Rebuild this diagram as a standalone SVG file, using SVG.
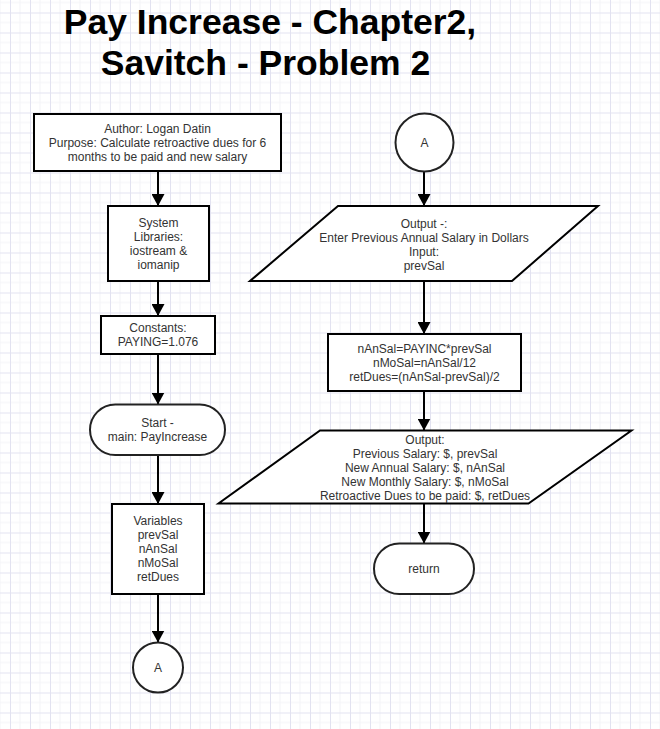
<svg xmlns="http://www.w3.org/2000/svg" width="660" height="729" viewBox="0 0 660 729">
<style>
.t{font-family:"Liberation Sans",Arial,sans-serif;font-size:12px;fill:#333;text-anchor:middle}
.title{font-family:"Liberation Sans",Arial,sans-serif;font-size:35.5px;font-weight:bold;fill:#000;text-anchor:middle}
.s{fill:#fff;stroke:#000;stroke-width:2}
.c{fill:#fff;stroke:#222;stroke-width:2}
.e{stroke:#000;stroke-width:2;fill:none}
</style>
<defs>
<pattern id="grid" patternUnits="userSpaceOnUse" width="20" height="20" x="10" y="12.5">
<rect width="20" height="20" fill="#fff"/>
<path d="M10 0V20M0 10H20" stroke="#f3f3f8" stroke-width="1"/>
<path d="M0.5 0V20M0 0.5H20" stroke="#e2e2f0" stroke-width="1"/>
</pattern>
<marker id="ah" markerUnits="userSpaceOnUse" markerWidth="14" markerHeight="13" refX="12" refY="6.5" orient="auto">
<path d="M0 0L12 6.5L0 13Z" fill="#000"/>
</marker>
</defs>
<rect width="660" height="729" fill="url(#grid)"/>
<g id="title">
<text class="title" x="270" y="34">Pay Increase - Chapter2,</text>
<text class="title" x="265.5" y="74.5">Savitch - Problem 2</text>
</g>
<g id="connectors">
<path class="e" d="M158 171V206" marker-end="url(#ah)"/>
<path class="e" d="M158 281V316" marker-end="url(#ah)"/>
<path class="e" d="M158 354V404.5" marker-end="url(#ah)"/>
<path class="e" d="M158 455V504" marker-end="url(#ah)"/>
<path class="e" d="M158 594V642.5" marker-end="url(#ah)"/>
<path class="e" d="M424 171.5V206" marker-end="url(#ah)"/>
<path class="e" d="M424 281V334" marker-end="url(#ah)"/>
<path class="e" d="M424 391V430.5" marker-end="url(#ah)"/>
<path class="e" d="M424 503.5V543.5" marker-end="url(#ah)"/>
</g>
<g id="author">
<rect class="s" x="34" y="114" width="247" height="57"/>
<text class="t" x="157.5" y="133.3">Author: Logan Datin</text>
<text class="t" x="157.5" y="147">Purpose: Calculate retroactive dues for 6</text>
<text class="t" x="157.5" y="161">months to be paid and new salary</text>
</g>
<g id="libraries">
<rect class="s" x="108" y="206" width="101" height="75"/>
<text class="t" x="158.5" y="227">System</text>
<text class="t" x="158.5" y="241">Libraries:</text>
<text class="t" x="158.5" y="255">iostream &amp;</text>
<text class="t" x="158.5" y="269">iomanip</text>
</g>
<g id="constants">
<rect class="s" x="101" y="316" width="114" height="38"/>
<text class="t" x="158" y="332">Constants:</text>
<text class="t" x="158" y="346">PAYING=1.076</text>
</g>
<g id="start">
<rect class="c" x="90" y="404.5" width="135" height="50.5" rx="25.25"/>
<text class="t" x="157.5" y="427">Start -</text>
<text class="t" x="157.5" y="441">main: PayIncrease</text>
</g>
<g id="variables">
<rect class="s" x="112" y="504" width="92" height="90"/>
<text class="t" x="158" y="525">Variables</text>
<text class="t" x="158" y="539">prevSal</text>
<text class="t" x="158" y="553">nAnSal</text>
<text class="t" x="158" y="567">nMoSal</text>
<text class="t" x="158" y="581">retDues</text>
</g>
<g id="connectorA1">
<circle class="c" cx="158" cy="667.5" r="25"/>
<text class="t" x="158" y="671.5">A</text>
</g>
<g id="connectorA2">
<circle class="c" cx="424.5" cy="142.5" r="29"/>
<text class="t" x="424.5" y="147">A</text>
</g>
<g id="inputOutput">
<polygon class="s" points="338,206 598,206 512,281 250,281"/>
<text class="t" x="424" y="227.5">Output -:</text>
<text class="t" x="424" y="241.5">Enter Previous Annual Salary in Dollars</text>
<text class="t" x="424" y="255.5">Input:</text>
<text class="t" x="424" y="269.5">prevSal</text>
</g>
<g id="process">
<rect class="s" x="328" y="334" width="193" height="57"/>
<text class="t" x="424.5" y="353.3">nAnSal=PAYINC*prevSal</text>
<text class="t" x="424.5" y="367">nMoSal=nAnSal/12</text>
<text class="t" x="424.5" y="381">retDues=(nAnSal-prevSal)/2</text>
</g>
<g id="output">
<polygon class="s" points="320,430.5 631.5,430.5 528.5,503.5 218.5,503.5"/>
<text class="t" x="425" y="443.6">Output:</text>
<text class="t" x="425" y="458.3">Previous Salary: $, prevSal</text>
<text class="t" x="425" y="471.6">New Annual Salary: $, nAnSal</text>
<text class="t" x="425" y="486">New Monthly Salary: $, nMoSal</text>
<text class="t" x="425" y="500.3">Retroactive Dues to be paid: $, retDues</text>
</g>
<g id="return">
<rect class="c" x="374" y="543.5" width="100" height="50.5" rx="25.25"/>
<text class="t" x="424" y="573">return</text>
</g>
</svg>
